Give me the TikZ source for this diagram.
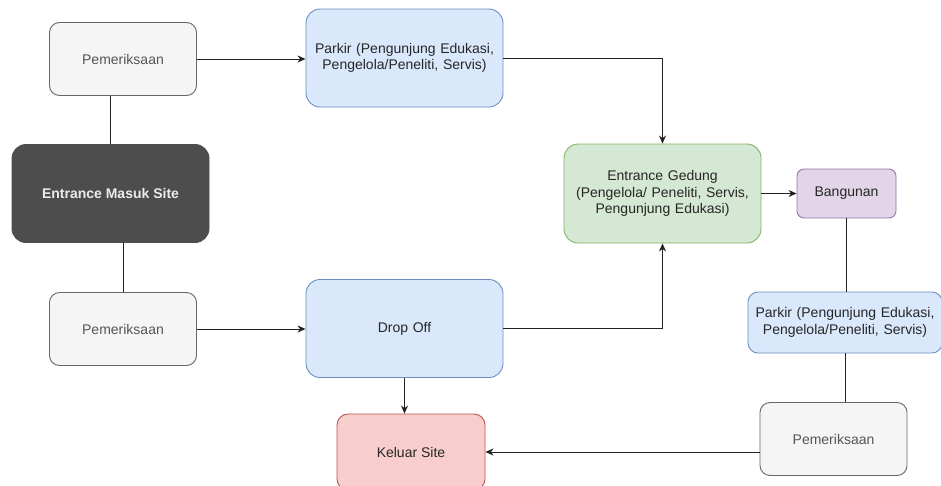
\documentclass[tikz,border=0pt]{standalone}
\usepackage{fontspec}
\setmainfont{Liberation Sans}
\usetikzlibrary{arrows.meta}

\definecolor{greyfill}{HTML}{F5F5F5}
\definecolor{greyline}{HTML}{666666}
\definecolor{greytext}{HTML}{555555}
\definecolor{darkfill}{HTML}{4D4D4D}
\definecolor{bluefill}{HTML}{DAE8FC}
\definecolor{blueline}{HTML}{6C8EBF}
\definecolor{greenfill}{HTML}{D5E8D4}
\definecolor{greenline}{HTML}{82B366}
\definecolor{purplefill}{HTML}{E1D5E7}
\definecolor{purpleline}{HTML}{9673A6}
\definecolor{redfill}{HTML}{F8CECC}
\definecolor{redline}{HTML}{B85450}
\definecolor{edgecol}{HTML}{222222}

\begin{document}
\begin{tikzpicture}[x=1pt, y=-1pt, >={Stealth[length=8pt, width=7pt, inset=2.5pt]},
    font=\fontsize{14}{16.5}\selectfont, line width=1pt]
		\tikzstyle{box}=[rectangle, inner sep=2pt, align=center, line width=0.9pt]
		\tikzstyle{check}=[box, draw=greyline, fill=greyfill, text=greytext, rounded corners=10pt, minimum width=147pt, minimum height=73pt]
		\tikzstyle{dark}=[box, draw=darkfill, fill=darkfill, text=white!92!black, font=\fontsize{14}{16.5}\selectfont\bfseries, rounded corners=14pt, minimum width=197pt, minimum height=98pt]
		\tikzstyle{blue}=[box, draw=blueline, fill=bluefill, text=black!85, rounded corners=14pt, text width=193pt, minimum height=98pt]
		\tikzstyle{green}=[box, draw=greenline, fill=greenfill, text=black!85, rounded corners=14pt, text width=193pt, minimum height=99pt]
		\tikzstyle{purple}=[box, draw=purpleline, fill=purplefill, text=black!85, rounded corners=7pt, minimum width=99pt, minimum height=49pt]
		\tikzstyle{red}=[box, draw=redline, fill=redfill, text=black!85, rounded corners=11pt, minimum width=148pt, minimum height=76pt]
		\tikzstyle{flow}=[->, draw=edgecol]
		\tikzstyle{link}=[-, draw=edgecol]

		\useasboundingbox (0,0) rectangle (941,485);

		% linke Seite: Eingang
		\node[check] (pem1) at (123,59) {Pemeriksaan};
		\node[dark] (masuk) at (110.5,193.5) {Entrance Masuk Site};
		\node[check] (pem2) at (123,329) {Pemeriksaan};

		% Mitte
		\node[blue] (parkir1) at (404.5,58) {Parkir (Pengunjung Edukasi,\\ Pengelola/Peneliti, Servis)};
		\node[blue] (dropoff) at (404.5,328.5) {Drop Off};
		\node[red] (keluar) at (411,452) {Keluar Site};

		% rechte Seite: Gebaeude
		\node[green] (gedung) at (662.5,193.5) {Entrance Gedung\\ (Pengelola/ Peneliti, Servis,\\ Pengunjung Edukasi)};
		\node[purple] (bangunan) at (846.5,193.5) {Bangunan};
		\node[blue, text width=190pt, minimum height=61pt, rounded corners=10pt] (parkir2) at (845,322.5) {Parkir (Pengunjung Edukasi,\\ Pengelola/Peneliti, Servis)};
		\node[check] (pem3) at (833.5,439) {Pemeriksaan};

		% Verbindungen links
		\draw[link] (masuk.north) -- (masuk.north |- pem1.south);
		\draw[link] (pem2.north) -- (pem2.north |- masuk.south);
		\draw[flow] (pem1.east) -- (pem1.east -| parkir1.west);
		\draw[flow] (pem2.east) -- (pem2.east -| dropoff.west);
		\draw[flow] (dropoff.south) -- (dropoff.south |- keluar.north);

		% Verbindungen zum Gebaeude
		\draw[flow] (parkir1.east) -| (gedung.north);
		\draw[flow] (dropoff.east) -| (gedung.south);
		\draw[flow] (gedung.east) -- (bangunan.west);

		% Verbindungen rechts nach unten
		\draw[link] (bangunan.south) -- (bangunan.south |- parkir2.north);
		\draw[link] (parkir2.south) -- (parkir2.south |- pem3.north);
		\draw[flow] (keluar.east -| pem3.west) -- (keluar.east);

	\end{tikzpicture}
\end{document}
